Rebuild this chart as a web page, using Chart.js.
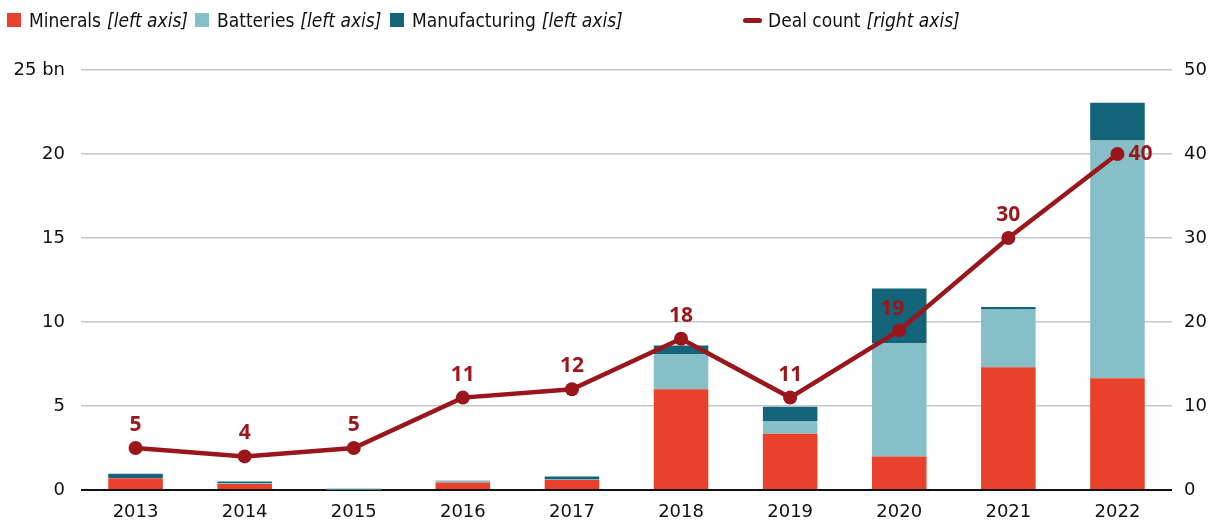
<!DOCTYPE html>
<html>
<head>
<meta charset="utf-8">
<script src="https://cdn.jsdelivr.net/npm/chart.js@4"></script>
<style>
  html, body { margin: 0; padding: 0; background: #fff; }
  #wrap { position: relative; width: 1217px; height: 525px; }
  #c { position: absolute; left: 0; top: 0; }
  .lg { position: absolute; top: 8px; height: 24px; display: flex; align-items: center;
        font-family: "DejaVu Sans Condensed", "DejaVu Sans", sans-serif; font-size: 19px; color: #111; white-space: nowrap; }
  .lg i { font-style: italic; margin-left: 6px; }
  .sw { width: 14px; height: 14px; margin-right: 8px; }
  .ln { width: 19px; height: 5px; border-radius: 3px; margin-right: 6px; }
</style>
</head>
<body>
<div id="wrap">
  <canvas id="c" width="1217" height="525"></canvas>
  <div id="legend"></div>
</div>
<script>
const categories = ["2013","2014","2015","2016","2017","2018","2019","2020","2021","2022"];
const minerals      = [0.70, 0.35, 0.00, 0.45, 0.60, 6.00, 3.35, 2.00, 7.30, 6.65];
const batteries     = [0.02, 0.05, 0.03, 0.08, 0.02, 2.10, 0.75, 6.75, 3.45, 14.15];
const manufacturing = [0.25, 0.10, 0.04, 0.02, 0.18, 0.50, 0.85, 3.25, 0.15, 2.25];
const dealCount     = [5, 4, 5, 11, 12, 18, 11, 19, 30, 40];
const leftTicks  = [0, 5, 10, 15, 20, 25];
const rightTicks = [0, 10, 20, 30, 40, 50];
const seriesNames = ["Minerals", "Batteries", "Manufacturing", "Deal count"];
const seriesAxisNotes = ["[left axis]", "[left axis]", "[left axis]", "[right axis]"];

const C_MIN = "#E8412C", C_BAT = "#86BFC7", C_MAN = "#136379", C_DEAL = "#9B161C";

// HTML legend
const legendX = [7, 195, 390, 743];
const legendColors = [C_MIN, C_BAT, C_MAN, C_DEAL];
const lg = document.getElementById("legend");
seriesNames.forEach((n, i) => {
  const d = document.createElement("div");
  d.className = "lg";
  d.style.left = legendX[i] + "px";
  const s = document.createElement("span");
  s.className = i === 3 ? "ln" : "sw";
  s.style.background = legendColors[i];
  d.appendChild(s);
  d.appendChild(document.createTextNode(n));
  const it = document.createElement("i");
  it.textContent = seriesAxisNotes[i];
  d.appendChild(it);
  lg.appendChild(d);
});

const FONT = "'DejaVu Sans', sans-serif";

const labelPlugin = {
  id: "dealLabels",
  afterDatasetsDraw(chart) {
    const meta = chart.getDatasetMeta(3);
    const ctx = chart.ctx;
    ctx.save();
    ctx.font = "bold 21px 'Open Sans', sans-serif";
    ctx.fillStyle = C_DEAL;
    meta.data.forEach((pt, i) => {
      let x = pt.x, y = pt.y - 23;
      ctx.textAlign = "center";
      ctx.textBaseline = "middle";
      if (i === categories.length - 1) { x = pt.x + 11; y = pt.y; ctx.textAlign = "left"; }
      if (i === 7) { x = pt.x - 7; y = pt.y - 21; }
      ctx.fillText(String(dealCount[i]), x, y);
    });
    ctx.restore();
  }
};

new Chart(document.getElementById("c"), {
  data: {
    labels: categories,
    datasets: [
      { type: "bar", label: seriesNames[0], data: minerals, backgroundColor: C_MIN, yAxisID: "y", stack: "s", order: 2,
        categoryPercentage: 1, barPercentage: 0.5 },
      { type: "bar", label: seriesNames[1], data: batteries, backgroundColor: C_BAT, yAxisID: "y", stack: "s", order: 2,
        categoryPercentage: 1, barPercentage: 0.5 },
      { type: "bar", label: seriesNames[2], data: manufacturing, backgroundColor: C_MAN, yAxisID: "y", stack: "s", order: 2,
        categoryPercentage: 1, barPercentage: 0.5 },
      { type: "line", label: seriesNames[3], data: dealCount, yAxisID: "y1", order: 0,
        borderColor: C_DEAL, backgroundColor: C_DEAL, borderWidth: 4.5, pointRadius: 7, pointHoverRadius: 7,
        pointBackgroundColor: C_DEAL, pointBorderWidth: 0, tension: 0 }
    ]
  },
  options: {
    responsive: false,
    animation: false,
    events: [],
    layout: { padding: { top: 70, left: 0, right: 0, bottom: 0 } },
    plugins: { legend: { display: false }, tooltip: { enabled: false } },
    scales: {
      x: {
        stacked: true,
        offset: true,
        grid: { display: false, drawTicks: false },
        border: { display: false },
        ticks: { color: "#111", font: { family: FONT, size: 18 }, padding: 12 },
        afterFit(s) { s.height = 35; }
      },
      y: {
        position: "left",
        stacked: true,
        min: 0, max: 25,
        afterBuildTicks(s) { s.ticks = leftTicks.map(v => ({ value: v })); },
        ticks: { color: "#111", font: { family: FONT, size: 18 }, padding: 16,
                 callback: v => v === 25 ? "25 bn" : String(v) },
        grid: {
          color: c => c.tick && c.tick.value === 0 ? "#111" : "#c8c8c8",
          lineWidth: c => c.tick && c.tick.value === 0 ? 2 : 1.5,
          drawTicks: false
        },
        border: { display: false },
        afterFit(s) { s.width = 81; }
      },
      y1: {
        position: "right",
        min: 0, max: 50,
        afterBuildTicks(s) { s.ticks = rightTicks.map(v => ({ value: v })); },
        ticks: { color: "#111", font: { family: FONT, size: 18 }, padding: 12 },
        grid: { display: false, drawTicks: false },
        border: { display: false },
        afterFit(s) { s.width = 45; }
      }
    }
  },
  plugins: [labelPlugin]
});
</script>
</body>
</html>
